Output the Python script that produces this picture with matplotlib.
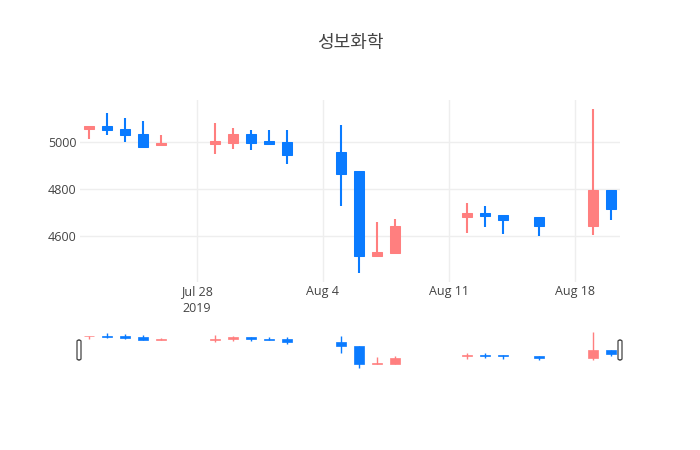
import datetime as dt
import matplotlib
matplotlib.use('Agg')
from matplotlib import pyplot as plt
import matplotlib.dates as mdates
from matplotlib.patches import FancyBboxPatch

plt.rcParams['font.family'] = ['Open Sans', 'Noto Sans CJK KR', 'DejaVu Sans']

# daily prices
dates = ['2019-07-22', '2019-07-23', '2019-07-24', '2019-07-25', '2019-07-26',
         '2019-07-29', '2019-07-30', '2019-07-31', '2019-08-01', '2019-08-02',
         '2019-08-05', '2019-08-06', '2019-08-07', '2019-08-08',
         '2019-08-12', '2019-08-13', '2019-08-14', '2019-08-16',
         '2019-08-19', '2019-08-20']
opens = [5055, 5065, 5055, 5035, 4985, 4990, 4995, 5035, 5005, 5000,
         4955, 4875, 4515, 4530, 4680, 4700, 4690, 4680, 4645, 4795]
highs = [5065, 5120, 5100, 5090, 5030, 5080, 5060, 5050, 5050, 5050,
         5070, 4875, 4660, 4675, 4740, 4730, 4690, 4680, 5140, 4795]
lows = [5010, 5030, 5000, 4980, 4985, 4950, 4970, 4965, 4985, 4905,
        4730, 4445, 4515, 4530, 4615, 4640, 4610, 4600, 4605, 4670]
closes = [5065, 5050, 5030, 4980, 4995, 5005, 5035, 4995, 4990, 4945,
          4865, 4515, 4535, 4645, 4700, 4685, 4670, 4645, 4795, 4715]

tick_dates = ['2019-07-28', '2019-08-04', '2019-08-11', '2019-08-18']
tick_labels = ['Jul 28\n2019', 'Aug 4', 'Aug 11', 'Aug 18']
title = '성보화학'

UP = '#ff7f7f'
DOWN = '#0a7bff'

x = [mdates.date2num(dt.datetime.strptime(d, '%Y-%m-%d')) for d in dates]
xt = [mdates.date2num(dt.datetime.strptime(d, '%Y-%m-%d')) for d in tick_dates]
xlim = (x[0] - 0.5, x[-1] + 0.5)
ylim = (4406, 5177)

W, H = 700, 450
fig = plt.figure(figsize=(7, 4.5), dpi=100)


def px_box(l, t, r, b):
    return [l / W, 1 - b / H, (r - l) / W, (b - t) / H]


def draw_candles(ax, lw, body_w):
    for xi, o, h, lo, c in zip(x, opens, highs, lows, closes):
        col = UP if c >= o else DOWN
        ax.vlines(xi, lo, h, color=col, lw=lw, zorder=2)
        ax.bar(xi, abs(c - o), bottom=min(o, c), width=body_w,
               color=col, edgecolor=col, linewidth=lw * 0.5, zorder=3)
    ax.set_xlim(*xlim)
    ax.set_ylim(*ylim)
    for s in ax.spines.values():
        s.set_visible(False)


# main chart
ax = fig.add_axes(px_box(80, 100, 620, 282))
draw_candles(ax, 1.5, 0.58)
ax.set_yticks([4600, 4800, 5000])
ax.set_xticks(xt)
ax.set_xticklabels(tick_labels, multialignment='center', linespacing=1.4)
ax.grid(True, color='#eeeeee', lw=1, zorder=0)
ax.set_axisbelow(True)
ax.tick_params(axis='both', length=0, labelsize=9, colors='#444444')
ax.tick_params(axis='y', pad=2.5)
ax.tick_params(axis='x', pad=2.5)

# range slider
rs = fig.add_axes(px_box(80, 330, 620, 370))
draw_candles(rs, 1.0, 0.58)
rs.set_xticks([])
rs.set_yticks([])

for hx in (79, 620):
    l, b, w, h = px_box(hx - 2, 340, hx + 2, 360)
    fig.patches.append(FancyBboxPatch((l, b), w, h, boxstyle='round,pad=0,rounding_size=0.003',
                                      transform=fig.transFigure, facecolor='white',
                                      edgecolor='#444444', linewidth=0.9, zorder=5))

fig.text(350 / W, 1 - 43 / H, title, ha='center', va='center', fontsize=13,
         color='#444444', family=['Noto Sans CJK KR', 'DejaVu Sans'])

fig.savefig('out.png', dpi=100)
